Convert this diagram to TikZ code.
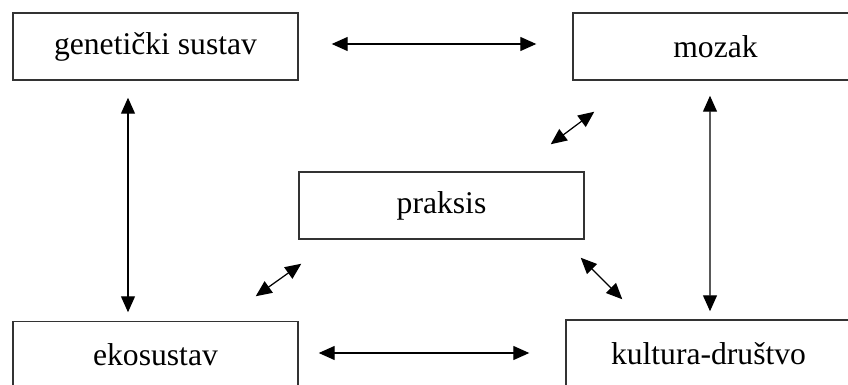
\documentclass[tikz,border=0pt]{standalone}
\usepackage{fontspec}
\setmainfont{Liberation Serif}
\usetikzlibrary{arrows.meta}

\begin{document}
\begin{tikzpicture}[x=0.02cm, y=-0.02cm,
    kutija/.style={draw=black!80, line width=0.85pt, minimum width=5.7cm, minimum height=1.34cm,
      inner sep=0pt, font=\fontsize{18}{22}\selectfont},
    veza/.style={line width=0.7pt, {Triangle[length=0.32cm,width=0.28cm]}-{Triangle[length=0.32cm,width=0.28cm]}}]
    \useasboundingbox (0,0) rectangle (848,385);
    % Kutije
    \node[kutija] (gen) at (155.5,46.5) {genetički sustav};
    \node[kutija] (mozak) at (715.5,46.5) {mozak};
    \node[kutija] (praksis) at (441.5,205.5) {praksis};
    \node[kutija] (eko) at (155.5,355) {ekosustav};
    \node[kutija] (kultura) at (708.5,353.5) {kultura-društvo};
    % Strelice
    \draw[veza, shorten <=0.66cm, shorten >=0.72cm] ([shift={(0,-2.5)}]gen.east) -- ([shift={(0,-2.5)}]mozak.west);
    \draw[veza, shorten <=0.4cm, shorten >=0.72cm] ([shift={(0,-2)}]eko.east) -- ([shift={(0,-0.5)}]kultura.west);
    \draw[veza, shorten <=0.34cm, shorten >=0.17cm] ([shift={(-27.5,0)}]gen.south) -- ([shift={(-27.5,0)}]eko.north);
    \draw[veza, shorten <=0.3cm, shorten >=0.16cm] ([shift={(-5.5,0)}]mozak.south) -- ([shift={(1.5,0)}]kultura.north);
    \draw[veza] ([shift={(-34,-27)}]praksis.north east) -- ([shift={(22,31)}]mozak.south west);
    \draw[veza] ([shift={(3,24)}]praksis.south west) -- ([shift={(-43,-24.5)}]eko.north east);
    \draw[veza] ([shift={(-4,18)}]praksis.south east) -- ([shift={(57,-20)}]kultura.north west);
\end{tikzpicture}
\end{document}
